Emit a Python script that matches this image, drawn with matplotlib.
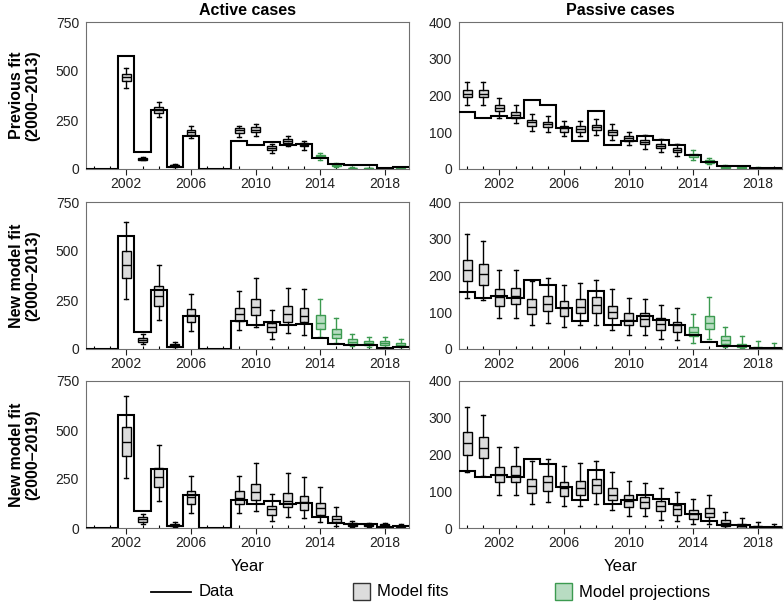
import numpy as np
import matplotlib
matplotlib.use("Agg")
from matplotlib import pyplot as plt
from matplotlib.patches import Rectangle
from matplotlib.lines import Line2D

plt.rcParams['font.family'] = ['Liberation Sans', 'DejaVu Sans']

years = list(range(2000, 2020))

# observed cases (step line)
active_data = [0, 0, 575, 85, 300, 12, 170, 0, 0, 141, 124, 136, 120, 127, 58, 26, 21, 21, 4, 11]
passive_data = [155, 139, 144, 139, 189, 175, 112, 76, 159, 64, 76, 91, 78, 64, 38, 19, 8, 7, 3, 2]

N = None

# row 1: previous fit (2000-2013) -- active
r1a_med = [N, N, 468, 52, 302, 18, 188, N, N, 197, 200, 105, 142, 124, 66, 20, 5, 3, 2, 2]
r1a_q1  = [N, N, 451, 48, 288, 14, 175, N, N, 183, 188, 95, 132, 115, 59, 16, 3, 2, 1, 1]
r1a_q3  = [N, N, 485, 57, 315, 22, 200, N, N, 208, 212, 115, 152, 132, 73, 24, 7, 4, 3, 3]
r1a_lo  = [N, N, 415, 45, 264, 10, 158, N, N, 163, 170, 81, 119, 98, 47, 10, 1, 0, 0, 0]
r1a_hi  = [N, N, 517, 62, 340, 27, 217, N, N, 220, 230, 129, 170, 144, 81, 30, 10, 7, 5, 5]

# row 1: previous fit (2000-2013) -- passive
r1p_med = [204, 205, 166, 148, 127, 122, 112, 109, 114, 101, 84, 73, 63, 51, 37, 21, 6, 4, 2, 1]
r1p_q1  = [195, 195, 158, 140, 118, 113, 102, 102, 107, 93, 77, 68, 57, 45, 32, 16, 4, 2, 1, 0]
r1p_q3  = [216, 216, 174, 156, 134, 129, 118, 116, 121, 107, 91, 80, 69, 57, 42, 25, 8, 6, 3, 2]
r1p_lo  = [175, 175, 140, 124, 104, 100, 89, 89, 92, 80, 65, 54, 46, 36, 25, 13, 2, 1, 0, 0]
r1p_hi  = [236, 236, 192, 174, 150, 143, 131, 131, 136, 122, 102, 93, 82, 68, 51, 31, 11, 9, 5, 3]

# row 2: new model fit (2000-2013) -- active
r2a_med = [N, N, 427, 46, 269, 20, 171, N, N, 177, 215, 113, 177, 169, 135, 76, 37, 29, 30, 22]
r2a_q1  = [N, N, 363, 37, 221, 15, 140, N, N, 144, 171, 86, 139, 137, 100, 56, 24, 19, 20, 15]
r2a_q3  = [N, N, 498, 56, 319, 25, 204, N, N, 211, 255, 133, 218, 208, 174, 100, 49, 39, 41, 33]
r2a_lo  = [N, N, 255, 25, 150, 12, 91, N, N, 96, 110, 51, 83, 73, 59, 29, 15, 12, 12, 8]
r2a_hi  = [N, N, 649, 76, 429, 37, 280, N, N, 296, 363, 201, 312, 306, 257, 160, 74, 61, 61, 50]

# row 2: new model fit (2000-2013) -- passive
r2p_med = [215, 203, 141, 143, 115, 123, 111, 115, 120, 100, 80, 81, 68, 64, 45, 71, 24, 9, 4, 1]
r2p_q1  = [186, 175, 118, 123, 95, 103, 90, 97, 99, 83, 65, 62, 52, 45, 35, 55, 14, 5, 2, 0]
r2p_q3  = [243, 232, 163, 166, 136, 144, 130, 135, 141, 118, 97, 97, 84, 73, 61, 91, 35, 14, 6, 2]
r2p_lo  = [139, 134, 85, 85, 65, 71, 59, 65, 66, 52, 39, 39, 27, 25, 16, 28, 5, 2, 0, 0]
r2p_hi  = [314, 294, 215, 215, 186, 194, 173, 180, 188, 164, 139, 136, 121, 112, 95, 141, 61, 35, 21, 15]

# row 3: new model fit (2000-2019) -- active
r3a_med = [N, N, 438, 45, 261, 17, 160, N, N, 152, 185, 98, 138, 131, 101, 45, 17, 15, 13, 8]
r3a_q1  = [N, N, 365, 30, 210, 10, 123, N, N, 123, 143, 67, 106, 93, 67, 29, 8, 10, 8, 5]
r3a_q3  = [N, N, 513, 56, 305, 22, 187, N, N, 190, 224, 114, 180, 163, 128, 59, 25, 20, 18, 12]
r3a_lo  = [N, N, 256, 19, 140, 5, 77, N, N, 77, 86, 34, 56, 51, 30, 8, 5, 5, 5, 2]
r3a_hi  = [N, N, 672, 72, 426, 32, 263, N, N, 263, 330, 173, 279, 259, 209, 109, 35, 25, 25, 18]

# row 3: new model fit (2000-2019) -- passive
r3p_med = [230, 218, 143, 143, 115, 125, 108, 109, 116, 91, 73, 70, 59, 51, 39, 42, 14, 6, 2, 1]
r3p_q1  = [200, 191, 125, 126, 95, 102, 86, 91, 95, 77, 57, 54, 46, 35, 25, 30, 6, 1, 1, 0]
r3p_q3  = [260, 248, 167, 169, 134, 142, 125, 129, 134, 109, 89, 84, 73, 62, 48, 55, 21, 10, 5, 3]
r3p_lo  = [152, 141, 89, 89, 64, 71, 59, 61, 66, 50, 34, 32, 23, 18, 10, 10, 1, 0, 0, 0]
r3p_hi  = [330, 308, 220, 221, 182, 188, 169, 177, 181, 152, 127, 122, 109, 99, 79, 90, 43, 26, 17, 12]

row_labels = ["Previous fit\n(2000\u20132013)", "New model fit\n(2000\u20132013)", "New model fit\n(2000\u20132019)"]
col_titles = ["Active cases", "Passive cases"]
proj_start = [2014, 2014, None]   # first projected year per row

panels = [
    [(r1a_med, r1a_q1, r1a_q3, r1a_lo, r1a_hi), (r1p_med, r1p_q1, r1p_q3, r1p_lo, r1p_hi)],
    [(r2a_med, r2a_q1, r2a_q3, r2a_lo, r2a_hi), (r2p_med, r2p_q1, r2p_q3, r2p_lo, r2p_hi)],
    [(r3a_med, r3a_q1, r3a_q3, r3a_lo, r3a_hi), (r3p_med, r3p_q1, r3p_q3, r3p_lo, r3p_hi)],
]

GRAY_FILL = "#dcdcdc"
GREEN_EDGE = "#3c9a50"
GREEN_FILL = "#b8dcc2"

fig = plt.figure(figsize=(7.84, 6.02), dpi=100)

lefts = [86 / 784, 459 / 784]
width = 323 / 784
bottoms = [1 - 169 / 602, 1 - 349 / 602, 1 - 528 / 602]
height = 147 / 602

edges = np.arange(1999.5, 2020.5, 1.0)

for r in range(3):
    for c in range(2):
        ax = fig.add_axes([lefts[c], bottoms[r], width, height])
        med, q1, q3, lo, hi = panels[r][c]
        fit_stats, fit_pos, proj_stats, proj_pos = [], [], [], []
        for i, yr in enumerate(years):
            if med[i] is None:
                continue
            st = dict(med=med[i], q1=q1[i], q3=q3[i], whislo=lo[i], whishi=hi[i], fliers=[])
            if proj_start[r] is not None and yr >= proj_start[r]:
                proj_stats.append(st)
                proj_pos.append(yr)
            else:
                fit_stats.append(st)
                fit_pos.append(yr)
        ax.bxp(fit_stats, positions=fit_pos, widths=0.55, patch_artist=True,
               showfliers=False, manage_ticks=False,
               boxprops=dict(facecolor=GRAY_FILL, edgecolor="black", linewidth=1.0),
               medianprops=dict(color="black", linewidth=1.0),
               whiskerprops=dict(color="black", linewidth=1.0),
               capprops=dict(color="black", linewidth=1.0), capwidths=0.25)
        if proj_stats:
            ax.bxp(proj_stats, positions=proj_pos, widths=0.55, patch_artist=True,
                   showfliers=False, manage_ticks=False,
                   boxprops=dict(facecolor=GREEN_FILL, edgecolor=GREEN_EDGE, linewidth=1.0),
                   medianprops=dict(color=GREEN_EDGE, linewidth=1.0),
                   whiskerprops=dict(color=GREEN_EDGE, linewidth=1.0),
                   capprops=dict(color=GREEN_EDGE, linewidth=1.0), capwidths=0.25)

        data = active_data if c == 0 else passive_data
        ax.stairs(data, edges, baseline=None, color="black", linewidth=1.5, zorder=5)

        ax.set_xlim(1999.5, 2019.5)
        if c == 0:
            ax.set_ylim(0, 750)
            ax.set_yticks([0, 250, 500, 750])
        else:
            ax.set_ylim(0, 400)
            ax.set_yticks([0, 100, 200, 300, 400])
        ax.set_xticks([2002, 2006, 2010, 2014, 2018])
        ax.set_xticks(years, minor=True)
        ax.tick_params(axis="x", which="major", direction="out", length=4, width=0.8,
                       labelsize=10, colors="#222222", pad=2)
        ax.tick_params(axis="x", which="minor", direction="in", length=2.5, width=0.8)
        ax.tick_params(axis="y", length=0, labelsize=10, colors="#222222", pad=5)
        for sp in ax.spines.values():
            sp.set_color("#707070")
            sp.set_linewidth(0.8)

        if r == 0:
            ax.set_title(col_titles[c], fontsize=11.5, fontweight="bold", pad=5)
        if r == 2:
            ax.set_xlabel("Year", fontsize=12, labelpad=6)
        if c == 0:
            ax.text(-0.19, 0.5, row_labels[r], transform=ax.transAxes, rotation=90,
                    ha="center", va="center", fontsize=11.5, fontweight="bold",
                    linespacing=1.1)

# legend along the bottom
ly = 1 - 592 / 602
fig.add_artist(Line2D([151 / 784, 191 / 784], [ly, ly], color="black", linewidth=1.3))
fig.text(199 / 784, ly, "Data", fontsize=12, va="center")
fig.add_artist(Rectangle((353 / 784, 1 - 600 / 602), 17 / 784, 17 / 602,
                         facecolor=GRAY_FILL, edgecolor="#333333", linewidth=1.0))
fig.text(377 / 784, ly, "Model fits", fontsize=12, va="center")
fig.add_artist(Rectangle((555 / 784, 1 - 600 / 602), 17 / 784, 17 / 602,
                         facecolor=GREEN_FILL, edgecolor=GREEN_EDGE, linewidth=1.0))
fig.text(579 / 784, ly, "Model projections", fontsize=12, va="center")

fig.savefig("out.png", dpi=100)
